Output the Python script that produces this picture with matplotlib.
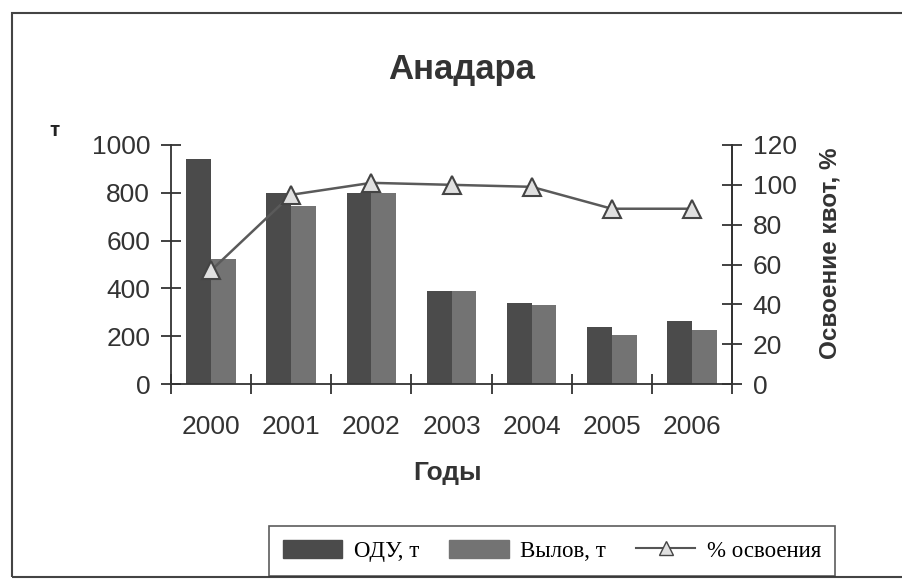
import matplotlib
matplotlib.use("Agg")
import matplotlib.pyplot as plt
import numpy as np
from matplotlib.patches import Rectangle
from matplotlib.lines import Line2D

years = ["2000", "2001", "2002", "2003", "2004", "2005", "2006"]
odu = [940, 800, 798, 388, 340, 240, 262]
catch = [523, 746, 798, 388, 331, 203, 225]
percent = [57, 95, 101, 100, 99, 88, 88]

plt.rcParams['font.family'] = ['Liberation Sans', 'DejaVu Sans']

fig = plt.figure(figsize=(9.02, 5.80), dpi=100)
fig.patch.set_facecolor('white')

ax = fig.add_axes([171/902, 1-384/580, (732-171)/902, (384-145)/580])
x = np.arange(len(years))
w = 0.31
c_odu = '#4b4b4b'
c_catch = '#737373'
ax.bar(x - w/2, odu, width=w, color=c_odu, zorder=2)
ax.bar(x + w/2, catch, width=w, color=c_catch, zorder=2)
ax.set_xlim(-0.5, len(years) - 0.5)
ax.set_ylim(0, 1000)
ax.set_yticks(np.arange(0, 1001, 200))
ax.set_xticks(x)
ax.set_xticklabels(years)
ax.set_xticks(np.arange(-0.5, len(years)), minor=True)
ax.tick_params(axis='x', which='major', length=0, labelsize=19, pad=22, colors='#333333')
ax.tick_params(axis='x', which='minor', length=14, direction='inout', width=1.3, color='#333333')
ax.tick_params(axis='y', length=14, direction='inout', width=1.3, labelsize=19, pad=8, colors='#333333')
ax.spines['top'].set_visible(False)
for s in ['left', 'bottom', 'right']:
    ax.spines[s].set_linewidth(1.3)
    ax.spines[s].set_color('#333333')

ax2 = ax.twinx()
ax2.plot(x, percent, color='#5a5a5a', lw=1.8, marker='^', markersize=13,
         markerfacecolor='#e0e0e0', markeredgecolor='#444444', markeredgewidth=1.5, zorder=3)
ax2.set_ylim(0, 120)
ax2.set_yticks(np.arange(0, 121, 20))
ax2.tick_params(axis='y', length=14, direction='inout', width=1.3, labelsize=19, pad=8, colors='#333333')
ax2.spines['top'].set_visible(False)
ax2.spines['left'].set_visible(False)
ax2.spines['bottom'].set_visible(False)
ax2.spines['right'].set_linewidth(1.3)
ax2.spines['right'].set_color('#333333')

fig.text(462/902, 1-70/580, 'Анадара', ha='center', va='center', fontsize=25,
         fontweight='bold', color='#333333')
fig.text(54/902, 1-130/580, 'т', ha='center', va='center', fontsize=15,
         fontweight='bold', color='#222222')
fig.text(448/902, 1-473/580, 'Годы', ha='center', va='center', fontsize=19,
         fontweight='bold', color='#333333')
fig.text(830/902, 1-253/580, 'Освоение квот, %', ha='center', va='center', fontsize=17.5,
         fontweight='bold', color='#333333', rotation=90)

# outer frame
fig.patches.append(Rectangle((12/902, 3/580), 1.0, 1-16/580, transform=fig.transFigure,
                             fill=False, edgecolor='#444444', lw=1.5))

handles = [Rectangle((0, 0), 1, 1, color=c_odu), Rectangle((0, 0), 1, 1, color=c_catch),
           Line2D([0], [0], color='#555555', lw=1.5, marker='^', markersize=10,
                  markerfacecolor='#e0e0e0', markeredgecolor='#444444')]
leg = fig.legend(handles, ['ОДУ, т', 'Вылов, т', '% освоения'], ncol=3,
                 loc='center', bbox_to_anchor=(552/902, 1-551/580),
                 prop={'family': 'Liberation Serif', 'size': 16.5},
                 frameon=True, fancybox=False, edgecolor='#333333',
                 handlelength=2.6, handleheight=0.8, handletextpad=0.5,
                 columnspacing=1.3, borderpad=0.6)
leg.get_frame().set_linewidth(1.2)

fig.savefig('out.png', dpi=100)
